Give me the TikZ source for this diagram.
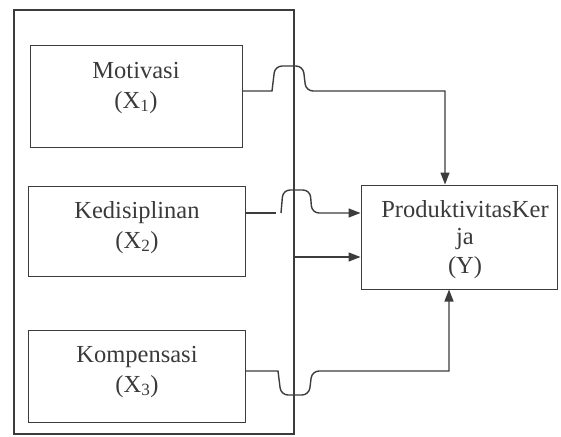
\documentclass[tikz,border=0pt]{standalone}
\usepackage{fontspec}
\setmainfont{Liberation Serif}
\usetikzlibrary{arrows.meta}
\definecolor{ink}{HTML}{3C3C3C}
\definecolor{txt}{HTML}{3A3A3A}
\begin{document}
\begin{tikzpicture}[x=1pt,y=-1pt,
  varbox/.style={draw=ink,line width=1pt,minimum width=#1,inner sep=0pt},
  lbl/.style={anchor=base,inner sep=0pt,text=txt,font=\fontsize{24.5}{30}\selectfont},
  conn/.style={draw=ink,line width=1.4pt},
  arr/.style={conn,-{Triangle[length=12pt,width=9pt]}}]
\useasboundingbox (0,0) rectangle (561,436);
% outer frame
\node[draw=ink,line width=1.8pt,minimum width=280pt,minimum height=424pt,inner sep=0pt] (outer) at (154,222) {};
% variable boxes
\node[varbox=212pt,minimum height=101pt] (b1) at (136,96.5) {};
\node[varbox=217pt,minimum height=90pt] (b2) at (136.5,231) {};
\node[varbox=217pt,minimum height=92pt] (b3) at (136.5,376) {};
\node[varbox=196pt,minimum height=104pt] (Y) at (459,237) {};
% texts
\node[lbl] (t1a) at (136,78) {Motivasi};
\node[lbl] (t1b) at (136,108) {(X\textsubscript{1})};
\node[lbl] (t2a) at (137,218) {Kedisiplinan};
\node[lbl] (t2b) at (137,248) {(X\textsubscript{2})};
\node[lbl] (t3a) at (137,362) {Kompensasi};
\node[lbl] (t3b) at (137,392) {(X\textsubscript{3})};
\node[lbl] (ya) at (465,217) {ProduktivitasKer};
\node[lbl] (yb) at (465,244) {ja};
\node[lbl] (yc) at (465,273) {(Y)};
% helper coordinates
\coordinate (h1) at (0,91);
\coordinate (h2) at (0,213);
\coordinate (h3) at (0,257);
\coordinate (h4) at (0,371);
\coordinate (v1) at (445,0);
\coordinate (v4) at (449,0);
\coordinate (g2) at (276,213);
\coordinate (s2) at (281,213);
% connectors
\draw[arr] (b1.east |- h1) -- (272,91) [rounded corners=7pt] -- (275,66) -- (303,66) -- (306,91) [sharp corners] -- (v1 |- h1) -- (Y.north -| v1);
\draw[conn] (b2.east |- h2) -- (g2);
\draw[arr] (s2) [rounded corners=7pt] -- (283,190) -- (310,190) -- (312,213) [sharp corners] -- (Y.west |- h2);
\draw[arr] (outer.east |- h3) -- (Y.west |- h3);
\draw[arr] (b3.east |- h4) -- (278,371) [rounded corners=7pt] -- (281,395) -- (309,395) -- (312,371) [sharp corners] -- (v4 |- h4) -- (Y.south -| v4);
\end{tikzpicture}
\end{document}
